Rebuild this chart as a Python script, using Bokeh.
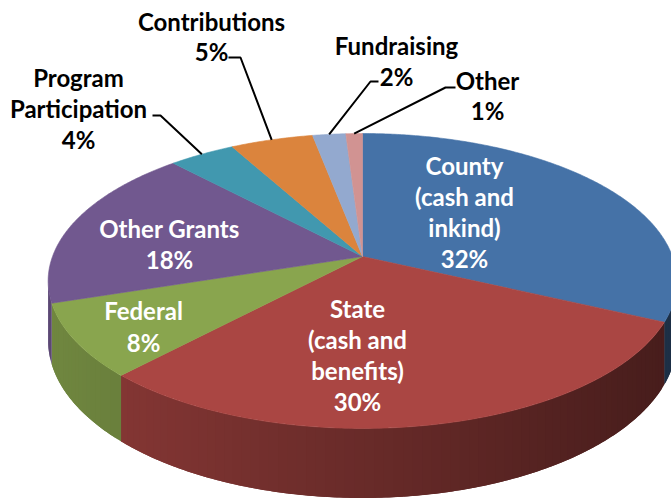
import math
import numpy as np
from bokeh.plotting import figure
from bokeh.models import Range1d, ColumnDataSource
from bokeh.core.properties import value
from bokeh.embed import file_html
from bokeh.resources import INLINE

# ---------------- data ----------------
categories = ["County (cash and inkind)", "State (cash and benefits)", "Federal",
              "Other Grants", "Program Participation", "Contributions",
              "Fundraising", "Other"]
label_lines = [["County", "(cash and", "inkind)"],
               ["State", "(cash and", "benefits)"],
               ["Federal"],
               ["Other Grants"],
               ["Program", "Participation"],
               ["Contributions"],
               ["Fundraising"],
               ["Other"]]
shares = [32, 30, 8, 18, 4, 5, 2, 1]
colors = ["#4572A7", "#AA4643", "#89A54E", "#71588F",
          "#4198AF", "#DB843D", "#93A9CF", "#D19392"]
inside = [True, True, True, True, False, False, False, False]

# ---------------- layout / style ----------------
W, H = 671, 501
CX, CY = 362, 256          # pie centre (screen px)
A, B = 310.0, 143.4        # radii of the tilted disk
P = 0.166                  # perspective strength
DEPTH = 58.0               # wall height
FONT = value("Lato")
FSIZE = "24px"

# label anchor: x, y of first line, line spacing
label_pos = {
    0: (464, 165, 31), 1: (357, 308, 31), 2: (143, 310, 32), 3: (169, 228, 31),
    4: (78, 77, 31), 5: (211, 21, 30), 6: (396, 45, 31), 7: (487, 80, 30),
}
# leader lines: knee point, end point near the label
leader = {4: ((160, 115), (152, 115)), 5: ((240, 57), (228, 57)),
          6: ((370, 81), (378, 81)), 7: ((445, 87), (455, 87))}


def proj(phi_deg, drop=0.0):
    ph = math.radians(phi_deg)
    u, v = math.sin(ph), math.cos(ph)
    w = 1.0 / (1.0 + P * v)
    return CX + A * u * w, CY - B * v * w + drop * w


def shade(hexcol, f):
    r, g, b = int(hexcol[1:3], 16), int(hexcol[3:5], 16), int(hexcol[5:7], 16)
    return "#%02x%02x%02x" % (int(r * f), int(g * f), int(b * f))


total = float(sum(shares))
bounds = np.concatenate([[0.0], np.cumsum(shares) / total * 360.0])

p = figure(width=W, height=H, x_range=Range1d(0, W), y_range=Range1d(H, 0),
           output_backend="svg", toolbar_location=None, min_border=0,
           x_axis_type=None, y_axis_type=None)
p.grid.visible = False
p.outline_line_color = None
p.background_fill_color = "white"

# ---- side walls (overlapping strips for a seamless gradient) ----
vis_lo = math.degrees(math.acos(-P))
vis_hi = 360.0 - vis_lo
sx, sy, sc = [], [], []
for i in range(len(shares)):
    s, e = max(bounds[i], vis_lo), min(bounds[i + 1], vis_hi)
    if e <= s:
        continue
    n = max(1, int(math.ceil((e - s) / 1.5)))
    angs = np.linspace(s, e, n + 1)
    for k in range(n):
        a1 = angs[k]
        a2 = angs[min(k + 2, n)]
        seg = np.linspace(a1, a2, 6)
        top = [proj(a) for a in seg]
        bot = [proj(a, DEPTH) for a in seg[::-1]]
        xs = [q[0] for q in top] + [q[0] for q in bot]
        ys = [q[1] for q in top] + [q[1] for q in bot]
        xm = proj((angs[k] + angs[k + 1]) / 2)[0]
        f = 0.82 - 0.40 * (xm - 50) / 620.0
        sx.append(xs); sy.append(ys); sc.append(shade(colors[i], f))
p.patches("xs", "ys", source=ColumnDataSource(dict(xs=sx, ys=sy, c=sc)),
          fill_color="c", line_color=None)

# ---- top faces ----
tx, ty, tc = [], [], []
for i in range(len(shares)):
    s, e = bounds[i], bounds[i + 1]
    n = max(2, int(math.ceil((e - s) / 0.5)))
    pts = [proj(a) for a in np.linspace(s, e, n + 1)]
    tx.append([CX] + [q[0] for q in pts])
    ty.append([CY] + [q[1] for q in pts])
    tc.append(colors[i])
p.patches("xs", "ys", source=ColumnDataSource(dict(xs=tx, ys=ty, c=tc)),
          fill_color="c", line_color="c", line_width=0.6)

# ---- leader lines ----
for i, (knee, end) in leader.items():
    mid = (bounds[i] + bounds[i + 1]) / 2
    x0, y0 = proj(mid)
    p.line([x0, knee[0], end[0]], [y0, knee[1], end[1]], line_color="black", line_width=2)

# ---- labels ----
lx, ly, lt, lc = [], [], [], []
for i in range(len(shares)):
    x, y, dy = label_pos[i]
    lines = label_lines[i] + ["%d%%" % shares[i]]
    for k, t in enumerate(lines):
        lx.append(x); ly.append(y + k * dy); lt.append(t)
        lc.append("white" if inside[i] else "black")
p.text("x", "y", text="t", source=ColumnDataSource(dict(x=lx, y=ly, t=lt, c=lc)),
       text_color="c", text_font=FONT, text_font_size=FSIZE, text_font_style="bold",
       text_align="center", text_baseline="middle")

open("out.html", "w").write(file_html(p, INLINE))
